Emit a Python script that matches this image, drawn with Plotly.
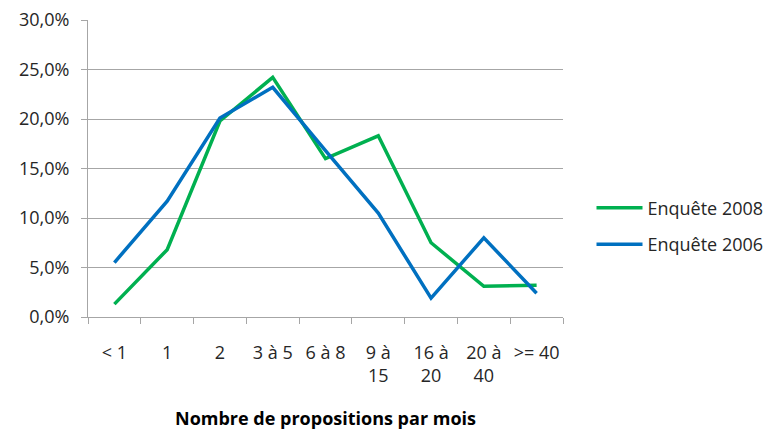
import plotly.graph_objects as go

# Nombre de propositions par mois
categories = ["< 1", "1", "2", "3 à 5", "6 à 8", "9 à<br>15", "16 à<br>20", "20 à<br>40", ">= 40"]
enquete_2008 = [0.013, 0.068, 0.198, 0.242, 0.160, 0.183, 0.075, 0.031, 0.032]
enquete_2006 = [0.055, 0.117, 0.201, 0.232, 0.168, 0.105, 0.019, 0.080, 0.024]
y_ticks = [0, 0.05, 0.10, 0.15, 0.20, 0.25, 0.30]

GREEN, BLUE, GRID, TXT = "#00B050", "#0070C0", "#A6A6A6", "#262626"
FONT = "Open Sans"

fig = go.Figure()
fig.add_trace(go.Scatter(x=categories, y=enquete_2008, mode="lines", name="Enquête 2008",
                         legendgroup="a", line=dict(color=GREEN, width=3.5)))
fig.add_trace(go.Scatter(x=categories, y=enquete_2006, mode="lines", name="Enquête 2006",
                         legendgroup="b", line=dict(color=BLUE, width=3.5)))

# page body has an 8px margin, so the figure is 8px smaller and the margins shifted
fig.update_layout(
    width=767, height=424,
    paper_bgcolor="white", plot_bgcolor="white",
    margin=dict(l=80, r=212, t=12, b=115, autoexpand=False),
    separators=", ",
    font=dict(family=FONT, size=18, color=TXT),
    legend=dict(x=1.06, y=0.306, xanchor="left", yanchor="middle",
                font=dict(size=18, color=TXT), tracegroupgap=10,
                itemwidth=46, bgcolor="rgba(0,0,0,0)"),
    xaxis=dict(
        type="category", range=[-0.5, len(categories) - 0.5],
        tickson="boundaries", ticks="outside", ticklen=6,
        tickcolor=GRID, showline=True, linecolor=GRID, linewidth=1,
        showgrid=False, tickangle=0, automargin=False, ticklabelstandoff=19,
        ticklabeloverflow="allow",
        title=dict(text="<b>Nombre de propositions par mois</b>",
                   font=dict(size=18, color="black"), standoff=26),
    ),
    yaxis=dict(
        range=[0, 0.30], tickvals=y_ticks, tickformat=".1%",
        ticks="outside", ticklen=6, tickcolor=GRID, automargin=False,
        ticklabelstandoff=8, ticklabeloverflow="allow",
        showline=True, linecolor=GRID, linewidth=1,
        gridcolor=GRID, gridwidth=1, zeroline=False,
    ),
)

fig.write_html("out.html")
